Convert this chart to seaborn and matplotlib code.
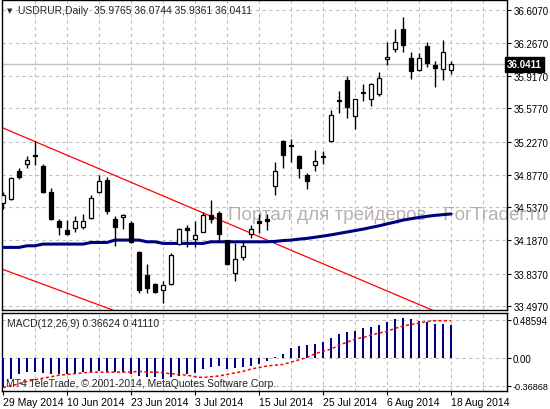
import numpy as np
import matplotlib
matplotlib.use("Agg")
import matplotlib.pyplot as plt
import matplotlib.transforms as mtransforms
import seaborn as sns

# USDRUR daily candles, 29 May 2014 .. 18 Aug 2014
opens = [34.58, 34.62, 34.92, 34.99, 35.09, 34.97, 34.70, 34.39, 34.30, 34.32,
         34.33, 34.42, 34.70, 34.82, 34.41, 34.43, 34.37, 34.06, 33.82, 33.73,
         33.66, 33.73, 34.15, 34.32, 34.20, 34.28, 34.45, 34.47, 34.19, 33.84,
         34.01, 34.25, 34.39, 34.41, 34.76, 35.23, 35.19, 35.08, 34.87, 34.98,
         35.07, 35.23, 35.66, 35.87, 35.50, 35.74, 35.67, 35.73, 36.10, 36.20,
         36.41, 36.11, 35.98, 36.23, 36.03, 35.99, 35.9765]
highs = [34.70, 34.85, 34.95, 35.07, 35.23, 34.99, 34.74, 34.41, 34.40, 34.44,
         34.46, 34.66, 34.87, 34.85, 34.44, 34.46, 34.39, 34.07, 33.94, 33.74,
         33.76, 34.05, 34.32, 34.35, 34.39, 34.49, 34.61, 34.50, 34.19, 34.16,
         34.17, 34.35, 34.46, 34.46, 35.01, 35.24, 35.25, 35.09, 34.90, 35.14,
         35.13, 35.56, 35.76, 35.92, 35.68, 35.83, 35.84, 35.96, 36.28, 36.41,
         36.54, 36.17, 36.16, 36.28, 36.08, 36.30, 36.0744]
lows = [34.52, 34.61, 34.83, 34.95, 34.98, 34.69, 34.40, 34.24, 34.24, 34.27,
        34.31, 34.41, 34.69, 34.46, 34.13, 34.31, 34.16, 33.63, 33.63, 33.63,
        33.53, 33.72, 34.14, 34.12, 34.12, 34.27, 34.37, 34.18, 33.93, 33.76,
        33.98, 34.21, 34.26, 34.30, 34.66, 34.95, 35.01, 34.84, 34.73, 34.92,
        34.99, 35.22, 35.53, 35.48, 35.36, 35.65, 35.60, 35.71, 36.03, 36.17,
        36.17, 35.89, 35.97, 36.01, 35.80, 35.87, 35.9361]
closes = [34.66, 34.84, 34.85, 35.03, 35.07, 34.70, 34.41, 34.33, 34.25, 34.39,
          34.39, 34.63, 34.81, 34.50, 34.33, 34.45, 34.17, 33.66, 33.69, 33.64,
          33.72, 34.03, 34.31, 34.30, 34.24, 34.45, 34.41, 34.25, 33.94, 33.99,
          34.13, 34.31, 34.37, 34.39, 34.92, 35.09, 35.18, 34.95, 34.81, 35.02,
          35.06, 35.51, 35.65, 35.59, 35.67, 35.75, 35.83, 35.90, 36.12, 36.28,
          36.24, 35.97, 36.11, 36.05, 36.00, 36.17, 36.0411]

# moving average (navy line)
ma_values = [34.113, 34.113, 34.113, 34.13, 34.13, 34.148, 34.148, 34.148, 34.148, 34.148,
             34.148, 34.165, 34.165, 34.165, 34.19, 34.19, 34.19, 34.19, 34.172, 34.172,
             34.155, 34.155, 34.155, 34.155, 34.155, 34.155, 34.172, 34.172, 34.172, 34.172,
             34.172, 34.172, 34.172, 34.172, 34.176, 34.185, 34.19, 34.20, 34.208, 34.22,
             34.232, 34.245, 34.26, 34.275, 34.29, 34.305, 34.323, 34.34, 34.36, 34.38,
             34.40, 34.415, 34.428, 34.44, 34.45, 34.458, 34.465]

# MACD(12,26,9) histogram and signal
macd_hist = [-0.40, -0.28, -0.22, -0.19, -0.19, -0.20, -0.21, -0.22, -0.21, -0.20,
             -0.19, -0.19, -0.18, -0.19, -0.19, -0.19, -0.21, -0.24, -0.26, -0.26,
             -0.28, -0.26, -0.24, -0.22, -0.20, -0.15, -0.12, -0.11, -0.15, -0.14,
             -0.12, -0.11, -0.09, -0.05, 0.01, 0.05, 0.12, 0.15, 0.16, 0.17,
             0.20, 0.25, 0.30, 0.33, 0.35, 0.38, 0.40, 0.43, 0.46, 0.50,
             0.51, 0.50, 0.48, 0.46, 0.44, 0.44, 0.42]
macd_signal = [-0.39, -0.37, -0.34, -0.31, -0.29, -0.27, -0.25, -0.23, -0.22, -0.21,
               -0.20, -0.19, -0.19, -0.19, -0.19, -0.19, -0.19, -0.18, -0.19, -0.19,
               -0.20, -0.21, -0.22, -0.23, -0.25, -0.26, -0.25, -0.24, -0.22, -0.20,
               -0.18, -0.15, -0.13, -0.11, -0.10, -0.09, -0.06, -0.03, 0.00, 0.05,
               0.08, 0.11, 0.16, 0.20, 0.24, 0.26, 0.29, 0.32, 0.34, 0.38,
               0.41, 0.43, 0.45, 0.47, 0.48, 0.48, 0.48]

# trend lines: (bar index, price) anchor pairs
upper_trend = [(0, 35.370), (53, 33.476)]
lower_trend = [(0, 33.881), (13, 33.476)]

price_ticks = [36.6070, 36.2670, 35.9170, 35.5770, 35.2270, 34.8770,
               34.5370, 34.1870, 33.8370, 33.4970]
macd_ticks = [0.48594, 0.00, -0.36868]
macd_tick_labels = ["0.48594", "0.00", "-0.36868"]
date_idx = [0, 8, 16, 24, 32, 40, 48, 56]
date_labels = ["29 May 2014", "10 Jun 2014", "23 Jun 2014", "3 Jul 2014",
               "15 Jul 2014", "25 Jul 2014", "6 Aug 2014", "18 Aug 2014"]
last_price = 36.0411

sns.set_style("white")
plt.rcParams['font.family'] = ['Liberation Sans', 'DejaVu Sans']

W, H = 550, 410
fig = plt.figure(figsize=(W / 100, H / 100), dpi=100)
fig.patch.set_facecolor("white")

ax = fig.add_axes([2 / W, 1 - 311 / H, 505 / W, 310.5 / H])
ax2 = fig.add_axes([2 / W, 1 - 392 / H, 505 / W, 78 / H])

o = np.array(opens)
h = np.array(highs)
l = np.array(lows)
c = np.array(closes)
idx = np.arange(len(o))

grid_kw = dict(color="#c0c0c0", lw=0.8, ls=(0, (3, 3)), zorder=0)
lab_size = 7

# ---- main panel
ax.set_xlim(-0.125, 63)
ax.set_ylim(33.454, 36.7226)
for p in price_ticks:
    ax.axhline(p, **grid_kw)
for g in range(4, 63, 4):
    ax.axvline(g, **grid_kw)
ax.axhline(last_price, color="#c0c0c0", lw=1, zorder=1)

ax.text(0.762, 0.31, "Портал для трейдеров - ForTrader.ru", transform=ax.transAxes,
        fontsize=13.5, color="#a89c9c", alpha=0.8, ha="center", va="center", zorder=1,
        clip_on=False)

for pts in (upper_trend, lower_trend):
    (x0, y0), (x1, y1) = pts
    k = (y1 - y0) / (x1 - x0)
    xs = np.array([-1, 70])
    ax.plot(xs, y0 + k * (xs - x0), color="red", lw=0.9, zorder=2)

sns.lineplot(x=idx, y=ma_values, ax=ax, color="#000080", lw=2.2, zorder=3)

ax.vlines(idx, l, h, color="black", lw=1, zorder=4)
bull = c >= o
body_lo = np.minimum(o, c)
body_h = np.maximum(np.abs(c - o), 0.008)
ax.bar(idx, body_h, bottom=body_lo, width=0.56,
       color=np.where(bull, "white", "black"), edgecolor="black", lw=0.9, zorder=5)

ax.yaxis.tick_right()
ax.set_yticks(price_ticks)
ax.set_yticklabels([f"{p:.4f}" for p in price_ticks])
ax.tick_params(axis="y", length=3, width=0.8, pad=1.5, labelsize=lab_size, colors="black")
ax.set_xticks([])
for s in ax.spines.values():
    s.set_color("black")
    s.set_linewidth(1)

ax.text(1.0, last_price, f"{last_price:.4f}",
        transform=mtransforms.blended_transform_factory(ax.transAxes, ax.transData),
        ha="left", va="center", fontsize=lab_size, color="white", fontweight="bold",
        bbox=dict(boxstyle="square,pad=0.25", fc="black", ec="black"), zorder=10,
        clip_on=False)

# ---- MACD panel
ax2.set_xlim(-0.125, 63)
ax2.set_ylim(-0.436, 0.580)
for p in macd_ticks:
    ax2.axhline(p, **grid_kw)
for g in range(4, 63, 4):
    ax2.axvline(g, **grid_kw)
ax2.bar(idx, macd_hist, width=0.28, color="#000080", lw=0, zorder=3)
sns.lineplot(x=idx, y=macd_signal, ax=ax2, color="red", lw=1.1, zorder=4)
ax2.lines[-1].set_linestyle((0, (2, 1.6)))

ax2.yaxis.tick_right()
ax2.set_yticks(macd_ticks)
ax2.set_yticklabels(macd_tick_labels)
ax2.tick_params(axis="y", length=3, width=0.8, pad=1.0, labelsize=lab_size, colors="black")
ax2.get_yticklabels()[-1].set_fontsize(6.6)
ax2.set_xticks(date_idx)
ax2.set_xticklabels(date_labels)
for t in ax2.get_xticklabels():
    t.set_ha("left")
ax2.tick_params(axis="x", length=3, width=0.8, pad=1.5, labelsize=7.5, colors="black",
                bottom=True)
for s in ax2.spines.values():
    s.set_color("black")
    s.set_linewidth(1)
ax2.set_xlabel("")
ax2.set_ylabel("")
ax.set_xlabel("")
ax.set_ylabel("")

# ---- header texts
fig.text(7 / W, 1 - 11 / H, "▼", fontsize=5, va="center", ha="left",
         family=["DejaVu Sans"])
fig.text(18 / W, 1 - 11 / H, "USDRUR,Daily  35.9765 36.0744 35.9361 36.0411",
         fontsize=7.5, va="center", ha="left")
fig.text(7 / W, 1 - 324 / H, "MACD(12,26,9) 0.36624 0.41110",
         fontsize=7.5, va="center", ha="left")
fig.text(6 / W, 1 - 384 / H, "MT4 TeleTrade, © 2001-2014, MetaQuotes Software Corp.",
         fontsize=7.5, va="center", ha="left")

fig.savefig("out.png", dpi=100, facecolor="white")
